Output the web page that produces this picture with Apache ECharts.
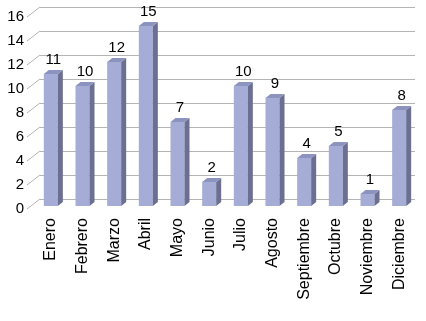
<!DOCTYPE html>
<html><head><meta charset="utf-8">
<script src="https://cdn.jsdelivr.net/npm/echarts@6/dist/echarts.min.js"></script>
<style>html,body{margin:0;padding:0;background:#fff}#c{width:426px;height:321px}</style>
</head><body><div id="c"></div>
<script>
const categories = ['Enero','Febrero','Marzo','Abril','Mayo','Junio','Julio','Agosto','Septiembre','Octubre','Noviembre','Diciembre'];
const values = [11,10,12,15,7,2,10,9,4,5,1,8];
const yTicks = [0,2,4,6,8,10,12,14,16];

const FONT = "'Liberation Sans', Arial, sans-serif";
const GRID_COLOR = '#b4b4b4';
const chart = echarts.init(document.getElementById('c'), null, {renderer:'canvas'});

const BAR_W = 14, DX = 5, DY = 4;

chart.setOption({
  animation: false,
  grid: [
    {left: 40, right: 11, top: 7, bottom: 122},   // back wall
    {left: 27, right: 24, top: 17, bottom: 112},  // front labels
    {left: 35, right: 11, top: 14, bottom: 115}   // bars
  ],
  xAxis: [
    {gridIndex: 0, type: 'value', min: 0, max: 1, show: false},
    {gridIndex: 1, type: 'value', min: 0, max: 1, show: false},
    {gridIndex: 2, type: 'category', data: categories,
     axisLine: {show: false}, axisTick: {show: false},
     axisLabel: {rotate: 90, margin: 12, color: '#000', fontSize: 16, fontFamily: FONT, interval: 0}}
  ],
  yAxis: [
    {gridIndex: 0, type: 'value', min: 0, max: 16, interval: 2,
     axisLabel: {show: false}, axisLine: {show: false}, axisTick: {show: false},
     splitLine: {show: true, lineStyle: {color: GRID_COLOR, width: 1}}},
    {gridIndex: 1, type: 'value', min: 0, max: 16, interval: 2,
     axisLine: {show: false}, axisTick: {show: false}, splitLine: {show: false},
     axisLabel: {margin: 3, color: '#000', fontSize: 15, fontFamily: FONT}},
    {gridIndex: 2, type: 'value', min: 0, max: 16, show: false}
  ],
  series: [
    {
      type: 'custom', xAxisIndex: 1, yAxisIndex: 1, silent: true,
      data: yTicks.map(v => [0, v]),
      renderItem: function (params, api) {
        const p = api.coord([0, api.value(1)]);
        return {type: 'line', shape: {x1: p[0], y1: p[1], x2: p[0] + 13, y2: p[1] - 10},
          style: {stroke: GRID_COLOR, lineWidth: 1}};
      }
    },
    {
      type: 'custom', xAxisIndex: 2, yAxisIndex: 2, silent: true,
      data: values.map((v, i) => [i, v]),
      renderItem: function (params, api) {
        const top = api.coord([api.value(0), api.value(1)]);
        const base = api.coord([api.value(0), 0]);
        const x = top[0] - BAR_W / 2, yt = top[1], yb = base[1];
        return {
          type: 'group',
          children: [
            {type: 'rect', shape: {x: x, y: yt, width: BAR_W, height: yb - yt},
             style: {fill: '#a5acd6'}},
            {type: 'polygon', shape: {points: [[x + BAR_W, yt], [x + BAR_W + DX, yt - DY], [x + BAR_W + DX, yb - DY], [x + BAR_W, yb]]},
             style: {fill: '#6b6f91'}},
            {type: 'polygon', shape: {points: [[x, yt], [x + DX, yt - DY], [x + BAR_W + DX, yt - DY], [x + BAR_W, yt]]},
             style: {fill: '#8d93bf'}},
            {type: 'text', style: {text: String(api.value(1)), x: x + (BAR_W + DX) / 2, y: yt - DY - 3,
              textAlign: 'center', textVerticalAlign: 'bottom', fill: '#000', fontSize: 15, fontFamily: FONT}}
          ]
        };
      }
    }
  ]
});
</script></body></html>
